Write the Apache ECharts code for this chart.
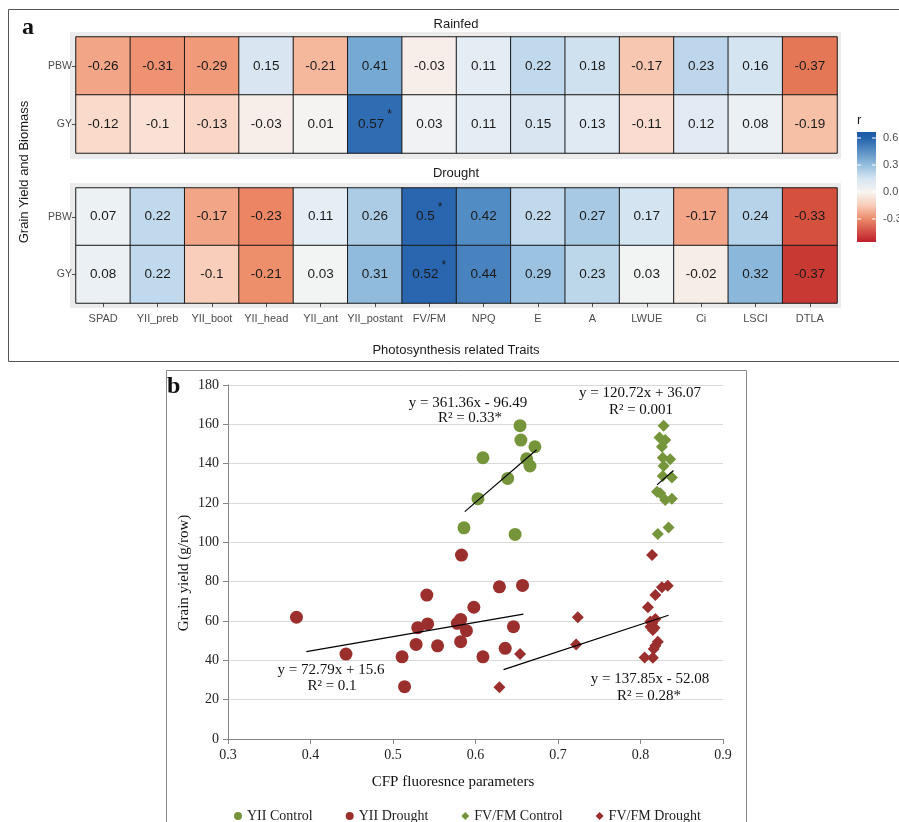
<!DOCTYPE html>
<html>
<head>
<meta charset="utf-8">
<script src="https://cdn.jsdelivr.net/npm/echarts@6/dist/echarts.min.js"></script>
<style>
html,body{margin:0;padding:0;background:#fff;}
#c{width:899px;height:822px;}
</style>
</head>
<body>
<div id="c"></div>
<script>
// ---------- Panel a data ----------
const traits = ['SPAD','YII_preb','YII_boot','YII_head','YII_ant','YII_postant','FV/FM','NPQ','E','A','LWUE','Ci','LSCI','DTLA'];
const rowNames = ['GY','PBW'];
const rainfedPBW = [-0.26,-0.31,-0.29,0.15,-0.21,0.41,-0.03,0.11,0.22,0.18,-0.17,0.23,0.16,-0.37];
const rainfedGY  = [-0.12,-0.1,-0.13,-0.03,0.01,0.57,0.03,0.11,0.15,0.13,-0.11,0.12,0.08,-0.19];
const droughtPBW = [0.07,0.22,-0.17,-0.23,0.11,0.26,0.5,0.42,0.22,0.27,0.17,-0.17,0.24,-0.33];
const droughtGY  = [0.08,0.22,-0.1,-0.21,0.03,0.31,0.52,0.44,0.29,0.23,0.03,-0.02,0.32,-0.37];
const rainfedSigPBW = [];
const rainfedSigGY = ['YII_postant'];
const droughtSigPBW = ['FV/FM'];
const droughtSigGY = ['FV/FM'];
const legendTicks = [0.6, 0.3, 0.0, -0.3];
const legendTickLabels = ['0.6','0.3','0.0','-0.3'];

// ---------- Panel b data ----------
const yiiControl = [[0.654,159.3],[0.655,152],[0.672,148.6],[0.609,143],[0.662,142.5],[0.666,138.8],[0.639,132.5],[0.603,122.2],[0.586,107.4],[0.648,104]];
const yiiDrought = [[0.583,93.5],[0.629,77.4],[0.657,78.1],[0.541,73.2],[0.383,61.9],[0.598,67],[0.582,60.8],[0.578,58.8],[0.542,58.5],[0.530,56.6],[0.589,55.1],[0.646,57.1],[0.528,48.1],[0.554,47.4],[0.582,49.5],[0.443,43.2],[0.511,41.8],[0.609,41.8],[0.636,46.1],[0.514,26.6]];
const fvfmControl = [[0.828,159.3],[0.823,153.3],[0.830,152],[0.826,148.6],[0.827,143],[0.836,142.3],[0.828,138.8],[0.838,133],[0.827,133.7],[0.820,125.7],[0.824,124.9],[0.830,121.5],[0.838,122.2],[0.834,107.5],[0.821,104.2]];
const fvfmDrought = [[0.654,43.2],[0.629,26.3],[0.724,61.9],[0.722,48.1],[0.833,77.9],[0.826,77.1],[0.818,73.2],[0.809,67],[0.818,61],[0.814,58.8],[0.817,56.6],[0.812,57.1],[0.815,55.4],[0.821,49.5],[0.818,47.4],[0.816,45.8],[0.805,41.5],[0.815,41.3],[0.814,93.5],[0.812,59.8]];
const trendYiiControl = [[0.587,115.6],[0.674,147.1]];
const trendYiiDrought = [[0.395,44.4],[0.658,63.5]];
const trendFvfmControl = [[0.820,129.2],[0.840,136.5]];
const trendFvfmDrought = [[0.634,35.3],[0.834,62.9]];
const xTicksB = {min:0.3, max:0.9, step:0.1};
const yTicksB = {min:0, max:180, step:20};

// ---------- build ----------
function heatData(pbw, gy, sigP, sigG){
  const out = [];
  traits.forEach((t,i)=>{
    out.push({value:[i,1,pbw[i]], sig: sigP.indexOf(t)>=0});
    out.push({value:[i,0,gy[i]], sig: sigG.indexOf(t)>=0});
  });
  return out;
}
const SANS = '"Liberation Sans", Arial, sans-serif';
const SERIF = '"Liberation Serif", "Times New Roman", serif';
const cellLabel = {
  show:true,
  formatter: p => p.data.sig ? '{v|'+p.value[2]+'}{s|*}' : '{v|'+p.value[2]+'}',
  rich:{
    v:{fontSize:13.5, color:'#1a1a1a', fontFamily:SANS, lineHeight:30},
    s:{fontSize:12, color:'#1a1a1a', fontFamily:SANS, verticalAlign:'top', lineHeight:12, padding:[0,0,0,3]}
  }
};
const heatItem = {borderColor:'#1a1a1a', borderWidth:1};

const rainfedColors = ['#DF6A48','#F09676','#F6BCA1','#FAE1D5','#F5F3F2','#E8EFF5','#C9DDEE','#A3C7E3','#7AADD6','#4F88C2','#2260A9'];
const droughtColors = ['#C0282A','#DE6247','#F09470','#F9CFBB','#F7F4F2','#E7EFF5','#CCE0EF','#97BFDF','#5C95CA','#2A66AF'];

const catAxisX = (grid, showLabels) => ({
  type:'category', gridIndex:grid, data:traits,
  axisLine:{show:false},
  axisTick:{show:showLabels, alignWithLabel:true, length:4, lineStyle:{color:'#4d4d4d'}},
  axisLabel:{show:showLabels, interval:0, fontSize:11, color:'#4d4d4d', fontFamily:SANS, margin:10},
  splitLine:{show:false}
});
const catAxisY = (grid) => ({
  type:'category', gridIndex:grid, data:rowNames,
  axisLine:{show:false},
  axisTick:{show:true, alignWithLabel:true, length:4, lineStyle:{color:'#4d4d4d'}},
  axisLabel:{fontSize:10.5, color:'#4d4d4d', fontFamily:SANS, margin:4},
  splitLine:{show:false}
});

const option = {
  animation:false,
  backgroundColor:'#fff',
  grid:[
    {left:76, top:37, width:761, height:116},
    {left:76, top:188, width:761, height:115},
    {left:228, top:385, width:495, height:354}
  ],
  xAxis:[
    catAxisX(0,false),
    catAxisX(1,true),
    {type:'value', gridIndex:2, min:xTicksB.min, max:xTicksB.max, interval:xTicksB.step,
     axisLine:{show:true, lineStyle:{color:'#868686'}},
     axisTick:{show:true, length:5, lineStyle:{color:'#868686'}},
     axisLabel:{fontSize:14, color:'#222', fontFamily:SERIF, margin:9, formatter:v=>v.toFixed(1)},
     splitLine:{show:false}}
  ],
  yAxis:[
    catAxisY(0),
    catAxisY(1),
    {type:'value', gridIndex:2, min:yTicksB.min, max:yTicksB.max, interval:yTicksB.step,
     axisLine:{show:true, lineStyle:{color:'#868686'}},
     axisTick:{show:true, length:5, lineStyle:{color:'#868686'}},
     axisLabel:{fontSize:14, color:'#222', fontFamily:SERIF, margin:9},
     splitLine:{show:true, lineStyle:{color:'#D9D9D9', width:1}}}
  ],
  visualMap:[
    {type:'continuous', show:false, seriesIndex:0, dimension:2, min:-0.4, max:0.6, inRange:{color:rainfedColors}},
    {type:'continuous', show:false, seriesIndex:1, dimension:2, min:-0.4, max:0.5, inRange:{color:droughtColors}}
  ],
  legend:{
    left:229, top:804, itemWidth:8, itemHeight:8, itemGap:33,
    textStyle:{fontFamily:SERIF, fontSize:14, color:'#222'},
    data:[
      {name:'YII Control', icon:'circle'},
      {name:'YII Drought', icon:'circle'},
      {name:'FV/FM Control', icon:'diamond'},
      {name:'FV/FM Drought', icon:'diamond'}
    ]
  },
  series:[
    {type:'heatmap', xAxisIndex:0, yAxisIndex:0, data:heatData(rainfedPBW, rainfedGY, rainfedSigPBW, rainfedSigGY), label:cellLabel, itemStyle:heatItem, emphasis:{disabled:true}},
    {type:'heatmap', xAxisIndex:1, yAxisIndex:1, data:heatData(droughtPBW, droughtGY, droughtSigPBW, droughtSigGY), label:cellLabel, itemStyle:heatItem, emphasis:{disabled:true}},
    {name:'YII Control', type:'scatter', xAxisIndex:2, yAxisIndex:2, data:yiiControl, symbol:'circle', symbolSize:13, itemStyle:{color:'#76953A', opacity:1}, z:3},
    {name:'YII Drought', type:'scatter', xAxisIndex:2, yAxisIndex:2, data:yiiDrought, symbol:'circle', symbolSize:13, itemStyle:{color:'#9B2F2D', opacity:1}, z:3},
    {name:'FV/FM Control', type:'scatter', xAxisIndex:2, yAxisIndex:2, data:fvfmControl, symbol:'diamond', symbolSize:[12,12], itemStyle:{color:'#76953A', opacity:1}, z:3},
    {name:'FV/FM Drought', type:'scatter', xAxisIndex:2, yAxisIndex:2, data:fvfmDrought, symbol:'diamond', symbolSize:[12,12], itemStyle:{color:'#9B2F2D', opacity:1}, z:3},
    {type:'line', xAxisIndex:2, yAxisIndex:2, data:trendYiiControl, showSymbol:false, silent:true, lineStyle:{color:'#000', width:1.2}, z:4},
    {type:'line', xAxisIndex:2, yAxisIndex:2, data:trendYiiDrought, showSymbol:false, silent:true, lineStyle:{color:'#000', width:1.2}, z:4},
    {type:'line', xAxisIndex:2, yAxisIndex:2, data:trendFvfmControl, showSymbol:false, silent:true, lineStyle:{color:'#000', width:1.2}, z:4},
    {type:'line', xAxisIndex:2, yAxisIndex:2, data:trendFvfmDrought, showSymbol:false, silent:true, lineStyle:{color:'#000', width:1.2}, z:4}
  ]
};

// ---------- graphic decorations ----------
const barTop = 132, barBottom = 242, barTopVal = 0.667, barBottomVal = -0.556;
const valToY = v => barTop + (barTopVal - v) / (barTopVal - barBottomVal) * (barBottom - barTop);
const g = [
  {type:'rect', shape:{x:8.5, y:9.5, width:900, height:352}, style:{fill:'none', stroke:'#555', lineWidth:1}, z:0},
  {type:'rect', shape:{x:166.5, y:370.5, width:580, height:470}, style:{fill:'none', stroke:'#888', lineWidth:1}, z:0},
  {type:'rect', shape:{x:70, y:32, width:771, height:127}, style:{fill:'#EBEBEB'}, z:-5},
  {type:'rect', shape:{x:70, y:183, width:771, height:125}, style:{fill:'#EBEBEB'}, z:-5},
  {type:'text', x:22, y:16, style:{text:'a', font:'bold 24px "Liberation Serif", serif', fill:'#111'}},
  {type:'text', x:167, y:375, style:{text:'b', font:'bold 24px "Liberation Serif", serif', fill:'#111'}},
  {type:'text', x:456, y:24, style:{text:'Rainfed', font:'13px "Liberation Sans", Arial, sans-serif', fill:'#1a1a1a', textAlign:'center', textVerticalAlign:'middle'}},
  {type:'text', x:456, y:173, style:{text:'Drought', font:'13px "Liberation Sans", Arial, sans-serif', fill:'#1a1a1a', textAlign:'center', textVerticalAlign:'middle'}},
  {type:'text', x:456, y:350, style:{text:'Photosynthesis related Traits', font:'13px "Liberation Sans", Arial, sans-serif', fill:'#1a1a1a', textAlign:'center', textVerticalAlign:'middle'}},
  {type:'text', x:24, y:172, rotation:Math.PI/2, style:{text:'Grain Yield and Biomass', font:'13px "Liberation Sans", Arial, sans-serif', fill:'#1a1a1a', textAlign:'center', textVerticalAlign:'middle'}},
  {type:'text', x:857, y:120, style:{text:'r', font:'13px "Liberation Sans", Arial, sans-serif', fill:'#1a1a1a', textVerticalAlign:'middle'}},
  {type:'rect', shape:{x:857, y:barTop, width:19, height:barBottom-barTop},
    style:{fill:{type:'linear', x:0, y:0, x2:0, y2:1, colorStops:[
      {offset:0, color:'#1C58A4'},{offset:0.055, color:'#2363AC'},{offset:0.3, color:'#94BEDD'},
      {offset:0.42, color:'#D4E4F1'},{offset:0.545, color:'#F7F4F2'},{offset:0.667, color:'#F8CDB8'},
      {offset:0.79, color:'#EB8A6A'},{offset:1, color:'#BF1E2A'}]}}}
];
legendTicks.forEach((v,i)=>{
  const y = valToY(v);
  g.push({type:'line', shape:{x1:857, y1:y, x2:861, y2:y}, style:{stroke:'#fff', lineWidth:1}});
  g.push({type:'line', shape:{x1:872, y1:y, x2:876, y2:y}, style:{stroke:'#fff', lineWidth:1}});
  g.push({type:'text', x:883, y:y, style:{text:legendTickLabels[i], font:'11px "Liberation Sans", Arial, sans-serif', fill:'#4d4d4d', textVerticalAlign:'middle'}});
});
const eqFont = '15px "Liberation Serif", "Times New Roman", serif';
[
  ['y = 361.36x - 96.49', 468, 403], ['R² = 0.33*', 470, 418],
  ['y = 120.72x + 36.07', 640, 393], ['R² = 0.001', 641, 410],
  ['y = 72.79x + 15.6', 331, 670], ['R² = 0.1', 332, 686],
  ['y = 137.85x - 52.08', 650, 679], ['R² = 0.28*', 649, 696]
].forEach(t=>{
  g.push({type:'text', x:t[1], y:t[2], z:10, style:{text:t[0], font:eqFont, fill:'#111', textAlign:'center', textVerticalAlign:'middle'}});
});
g.push({type:'text', x:453, y:782, style:{text:'CFP fluoresnce parameters', font:'15px "Liberation Serif", "Times New Roman", serif', fill:'#111', textAlign:'center', textVerticalAlign:'middle'}});
g.push({type:'text', x:184, y:573, rotation:Math.PI/2, style:{text:'Grain yield (g/row)', font:'15px "Liberation Serif", "Times New Roman", serif', fill:'#111', textAlign:'center', textVerticalAlign:'middle'}});
option.graphic = {elements:g};

const chart = echarts.init(document.getElementById('c'), null, {renderer:'canvas'});
chart.setOption(option);
</script>
</body>
</html>
